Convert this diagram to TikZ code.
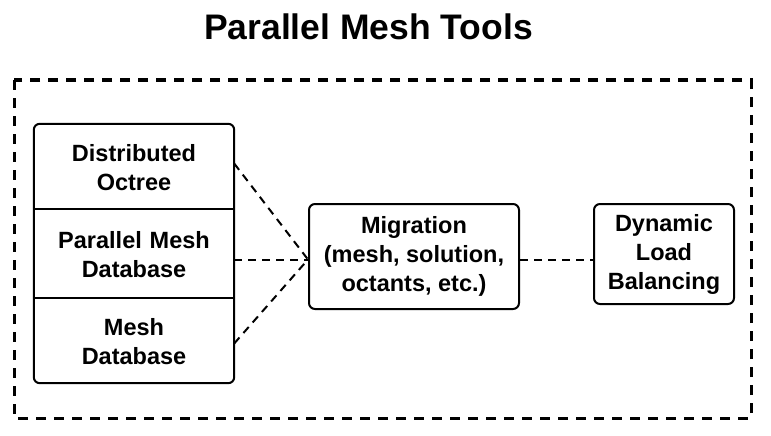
\documentclass[tikz,border=0pt]{standalone}
\usepackage{fontspec}
\setmainfont{Liberation Sans}
\begin{document}
\begin{tikzpicture}[x=1pt,y=-1pt,
  boxtext/.style={font=\bfseries\fontsize{23.5}{29}\selectfont, align=center, inner sep=0pt},
  cell/.style={boxtext, minimum width=200pt, text width=196pt},
  rbox/.style={boxtext, draw, line width=2pt, rounded corners=6pt},
  conn/.style={line width=2pt, dash pattern=on 8pt off 6pt},
  frame/.style={line width=3pt, dash pattern=on 10pt off 8pt}
]
\useasboundingbox (0,0) rectangle (771,436);
\node[font=\bfseries\fontsize{35.5}{40}\selectfont, anchor=base, inner sep=0pt] (title) at (368.5,40) {Parallel Mesh Tools};
\draw[frame] (14,80) rectangle (751,418);
% left stack
\node[cell, minimum height=85pt] (c1) at (134,167.5) {Distributed\\Octree};
\node[cell, minimum height=89pt] (c2) at (134,254.5) {Parallel Mesh\\Database};
\node[cell, minimum height=85pt] (c3) at (134,341.5) {Mesh\\Database};
\draw[line width=2pt, rounded corners=6pt] ([yshift=1pt]c1.north west) rectangle ([yshift=1pt]c3.south east);
\draw[line width=2pt] ([yshift=1pt]c1.south west) -- ([yshift=1pt]c1.south east);
\draw[line width=2pt] ([yshift=1pt]c2.south west) -- ([yshift=1pt]c2.south east);
% other boxes
\node[rbox, minimum width=210pt, minimum height=105pt] (mig) at (414,256.5) {Migration\\(mesh, solution,\\octants, etc.)};
\node[rbox, minimum width=140pt, minimum height=100pt] (dyn) at (664,254) {Dynamic\\Load\\Balancing};
% connectors
\coordinate (m) at ([yshift=-3pt]mig.west);
\draw[conn] ([yshift=4pt]c1.east) -- (m);
\draw[conn] (c2.east |- m) -- (m);
\draw[conn] ([yshift=-2pt]c3.east) -- (m);
\draw[conn] (mig.east |- m) -- (dyn.west |- m);
\end{tikzpicture}
\end{document}
